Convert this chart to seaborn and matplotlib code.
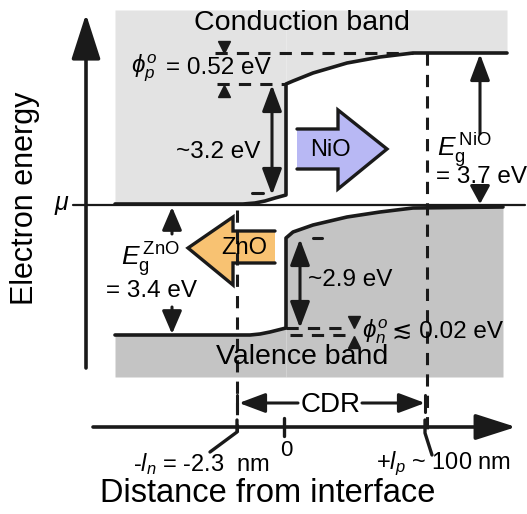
import matplotlib
matplotlib.use("Agg")
import matplotlib.pyplot as plt
from matplotlib.patches import Polygon
import seaborn as sns

# band edges of the ZnO / NiO junction (schematic units, y grows downward)
zno_cb_x = [115, 243, 255, 265, 275, 286]
zno_cb_y = [204, 204, 203, 201, 198, 195]
nio_cb_x = [286, 293, 313, 347, 380, 413, 507]
nio_cb_y = [84, 81, 73, 63, 57, 53, 53]
zno_vb_x = [115, 250, 260, 270, 278, 286]
zno_vb_y = [335, 335, 334, 332, 330, 328]
nio_vb_x = [286, 293, 313, 347, 380, 413, 503]
nio_vb_y = [238, 232, 225, 217, 212, 208, 207]

fermi_level = 205
band_top = 10
band_bottom = 377
ln_edge = 237      # -l_n
lp_edge = 427      # +l_p
interface = 284

gap_labels = ["~3.2 eV", "~2.9 eV", "= 3.7 eV", "= 3.4 eV"]
barrier_symbols = [r"$\phi_p^o$", r"$\phi_n^o$"]
barrier_values = ["= 0.52 eV", "≲ 0.02 eV"]
tick_labels = [r"-$l_n$ = -2.3  nm", "0", r"+$l_p$ ~ 100 nm"]

sns.set_theme(style="white")
plt.rcParams["font.family"] = ["Liberation Sans", "DejaVu Sans"]
plt.rcParams["text.color"] = "black"
plt.rcParams["mathtext.fontset"] = "custom"
plt.rcParams["mathtext.rm"] = "Liberation Sans"
plt.rcParams["mathtext.it"] = "Liberation Sans:italic"
plt.rcParams["mathtext.fallback"] = "stixsans"

fig = plt.figure(figsize=(5.27, 5.14), dpi=100)
ax = fig.add_axes([0, 0, 1, 1])
ax.set_xlim(0, 527)
ax.set_ylim(514, 0)
ax.axis("off")

light = "#e3e3e3"
dark = "#c4c4c4"
lw = 2.6

# shaded bands
ax.fill_between(zno_cb_x, band_top, zno_cb_y, color=light, lw=0)
ax.fill_between(nio_cb_x, band_top, nio_cb_y, color=light, lw=0)
ax.fill_between(zno_vb_x, zno_vb_y, band_bottom, color=dark, lw=0)
ax.fill_between(nio_vb_x, nio_vb_y, band_bottom, color=dark, lw=0)

# fermi level
ax.plot([73, 525], [fermi_level, fermi_level], color="k", lw=1.6)

# band edges (step at the interface)
sns.lineplot(x=zno_cb_x + nio_cb_x, y=zno_cb_y + nio_cb_y, sort=False,
             estimator=None, color="k", lw=lw, ax=ax)
sns.lineplot(x=zno_vb_x + nio_vb_x, y=zno_vb_y + nio_vb_y, sort=False,
             estimator=None, color="k", lw=lw, ax=ax)

# dashed guides
dash = dict(color="k", lw=2.2, ls=(0, (4, 3)))
ax.plot([ln_edge, ln_edge], [210, 432], **dash)
ax.plot([lp_edge, lp_edge], [nio_cb_y[-1], 432], **dash)
ax.plot([215, 413], [nio_cb_y[-1], nio_cb_y[-1]], **dash)
ax.plot([217, 286], [nio_cb_y[0], nio_cb_y[0]], **dash)
ax.plot([286, 346], [zno_vb_y[-1], zno_vb_y[-1]], **dash)
ax.plot([290, 346], [zno_vb_y[0], zno_vb_y[0]], **dash)
ax.plot([252, 263], [zno_cb_y[-1] - 2, zno_cb_y[-1] - 2], color="k", lw=2.2)
ax.plot([313, 322], [nio_vb_y[0], nio_vb_y[0]], color="k", lw=2.2)

# barrier markers
ax.plot([224], [nio_cb_y[-1] - 6], marker="v", ms=8, color="k")
ax.plot([224], [nio_cb_y[0] + 7], marker="^", ms=8, color="k")
ax.plot([354], [zno_vb_y[-1] - 6], marker="v", ms=8, color="k")
ax.plot([354], [zno_vb_y[0] + 7], marker="^", ms=8, color="k")

# axes arrows
ax.annotate("", xy=(86, 14), xytext=(86, 368),
            arrowprops=dict(arrowstyle="-|>,head_length=1.4,head_width=0.45",
                            lw=lw, color="k", shrinkA=0, shrinkB=0, mutation_scale=20))
ax.annotate("", xy=(516, 427), xytext=(93, 427),
            arrowprops=dict(arrowstyle="-|>,head_length=1.25,head_width=0.4",
                            lw=lw, color="k", shrinkA=0, shrinkB=0, mutation_scale=20))

# energy gap arrows
def varrow(x, y0, y1, style="<|-|>", hl=0.8):
    ax.annotate("", xy=(x, y1), xytext=(x, y0),
                arrowprops=dict(arrowstyle=style + ",head_length=%s,head_width=0.3" % hl,
                                lw=2.2, color="k", shrinkA=0, shrinkB=0, mutation_scale=20))

varrow(272, 195, 85)
varrow(300, 328, 239)
varrow(480, 134, 54, "-|>")
varrow(480, 192, 204, "-|>", 0.55)
varrow(172, 234, 207, "-|>", 0.7)
varrow(172, 307, 334, "-|>", 0.7)

# CDR span
ax.annotate("", xy=(239, 403), xytext=(298, 403),
            arrowprops=dict(arrowstyle="-|>,head_length=0.8,head_width=0.3",
                            lw=2.2, color="k", shrinkA=0, shrinkB=0, mutation_scale=20))
ax.annotate("", xy=(425, 403), xytext=(362, 403),
            arrowprops=dict(arrowstyle="-|>,head_length=0.8,head_width=0.3",
                            lw=2.2, color="k", shrinkA=0, shrinkB=0, mutation_scale=20))
ax.plot([ln_edge, ln_edge], [395, 412], color="k", lw=2.2)
ax.plot([lp_edge - 2, lp_edge - 2], [395, 412], color="k", lw=2.2)

# ticks and leader lines on the distance axis
ax.plot([interface, interface], [418, 436], color="k", lw=2.4)
ax.plot([ln_edge, ln_edge, 210], [420, 432, 452], color="k", lw=2.4)
ax.plot([lp_edge - 2, lp_edge - 2, 432], [420, 433, 455], color="k", lw=2.4)

# block arrows for carrier flow
nio_arrow = [(297, 129), (338, 129), (338, 110), (387, 149), (338, 189), (338, 169), (297, 169)]
ax.add_patch(Polygon(nio_arrow, closed=True, facecolor="#b8b8f4", edgecolor="none"))
ax.plot(*zip(*nio_arrow), color="k", lw=2.4, solid_joinstyle="miter")
zno_arrow = [(275, 231), (233, 231), (233, 217), (188, 248), (233, 285), (233, 263), (275, 263)]
ax.add_patch(Polygon(zno_arrow, closed=True, facecolor="#f8c272", edgecolor="none"))
ax.plot(*zip(*zno_arrow), color="k", lw=2.4, solid_joinstyle="miter")

# labels
ax.text(302, 23, "Conduction band", fontsize=20.5, ha="center", va="center")
ax.text(302, 357, "Valence band", fontsize=20.5, ha="center", va="center")
ax.text(25, 198, "Electron energy", fontsize=22, rotation=90, ha="center", va="center")
ax.text(268, 494, "Distance from interface", fontsize=23.5, ha="center", va="center")
ax.text(62, 205, r"$\mu$", fontsize=18, ha="center", va="center")
ax.text(330, 150, "NiO", fontsize=17, ha="center", va="center")
ax.text(244, 248, "ZnO", fontsize=17, ha="center", va="center")
ax.text(331, 405, "CDR", fontsize=20, ha="center", va="center")

ax.text(218, 152, gap_labels[0], fontsize=17.5, ha="center", va="center")
ax.text(350, 280, gap_labels[1], fontsize=17.5, ha="center", va="center")
ax.text(481, 177, gap_labels[2], fontsize=17.5, ha="center", va="center")
ax.text(152, 291, gap_labels[3], fontsize=17.5, ha="center", va="center")
ax.text(437, 150, r"$E_\mathrm{g}^{\,\mathrm{NiO}}$", fontsize=19, ha="left", va="center")
ax.text(121, 260, r"$E_\mathrm{g}^{\,\mathrm{ZnO}}$", fontsize=19, ha="left", va="center")

ax.text(131, 68, barrier_symbols[0], fontsize=17.5, ha="left", va="center")
ax.text(166, 68, barrier_values[0], fontsize=17.5, ha="left", va="center")
ax.text(362, 332, barrier_symbols[1], fontsize=17.5, ha="left", va="center")
ax.text(392, 332, barrier_values[1], fontsize=17.5, ha="left", va="center")

ax.text(201, 464, tick_labels[0], fontsize=17, ha="center", va="center")
ax.text(286, 450, tick_labels[1], fontsize=16, ha="center", va="center")
ax.text(444, 464, tick_labels[2], fontsize=17, ha="center", va="center")

fig.savefig("out.png", dpi=100)
